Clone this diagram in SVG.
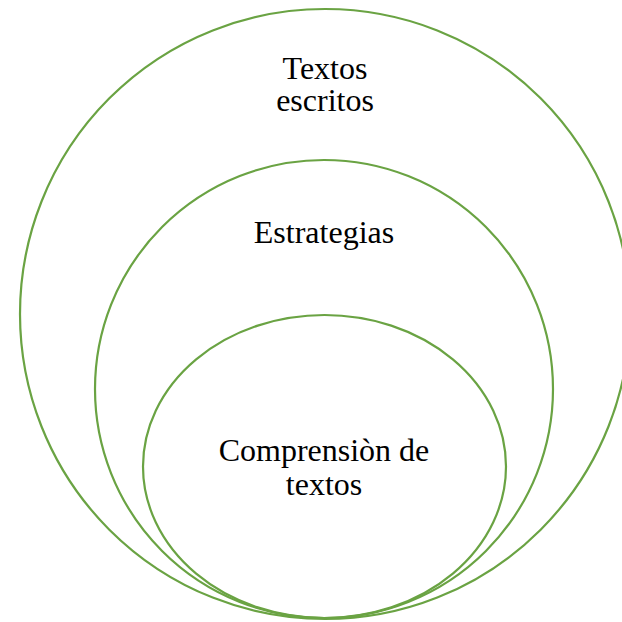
<svg xmlns="http://www.w3.org/2000/svg" width="622" height="622" viewBox="0 0 622 622">
<style>
.c{fill:none;stroke:#6aa343;stroke-width:2.2}
.t{font-family:'Liberation Serif','Times New Roman','DejaVu Serif',serif;font-size:32px;fill:#000;text-anchor:middle}
</style>
<rect width="622" height="622" fill="#fff"/>
<g id="outer"><circle class="c" cx="325" cy="314" r="305"/><text class="t" x="325" y="79">Textos</text><text class="t" x="325" y="111">escritos</text></g>
<g id="middle"><circle class="c" cx="324" cy="389" r="229"/><text class="t" x="324" y="243">Estrategias</text></g>
<g id="inner"><ellipse class="c" cx="324.5" cy="466.5" rx="181.5" ry="151.5"/><text class="t" x="324" y="461">Comprensiòn de</text><text class="t" x="324" y="495">textos</text></g>
<g id="connectors"/>
</svg>
